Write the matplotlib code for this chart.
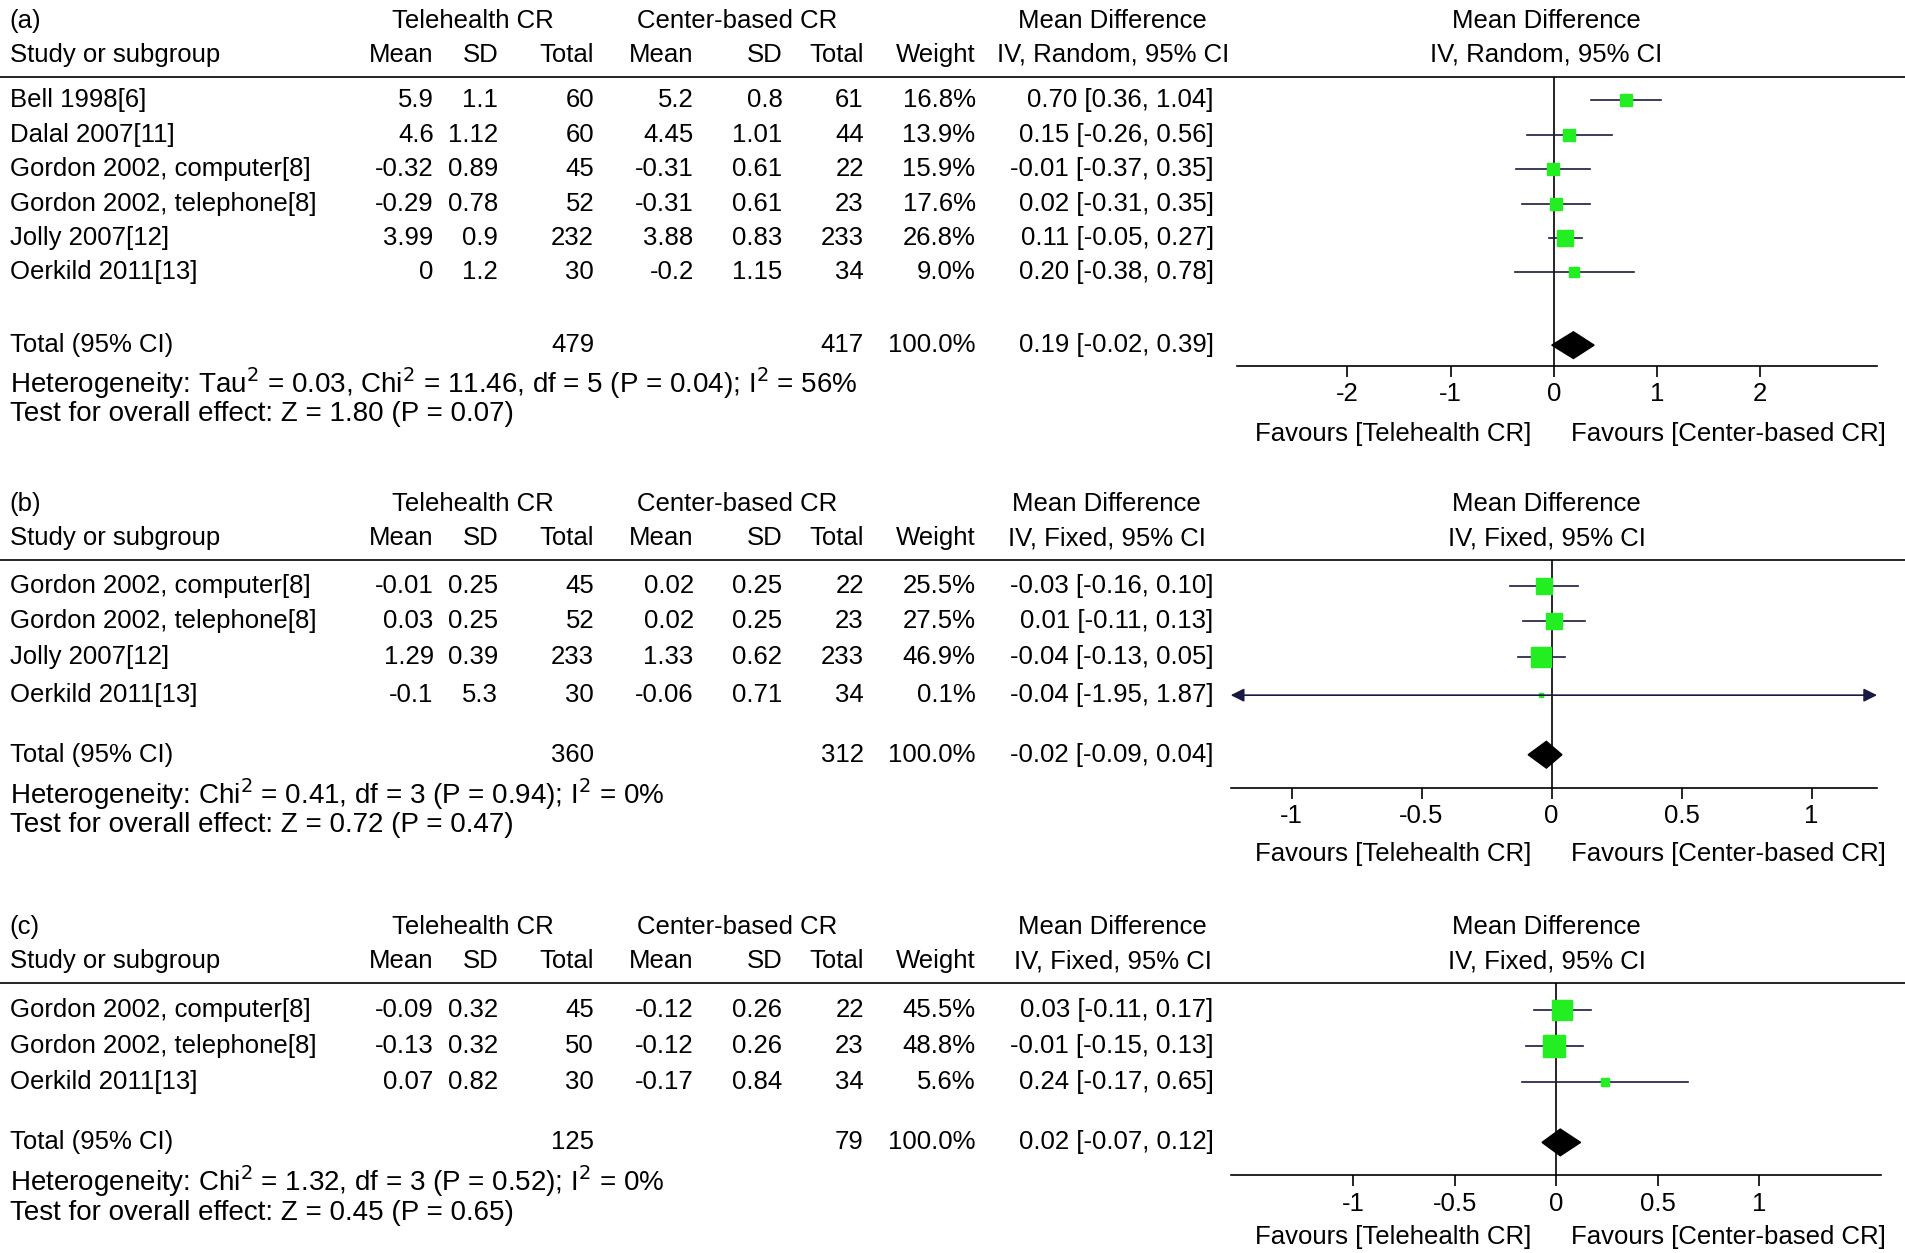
import numpy as np
import matplotlib.pyplot as plt
from matplotlib.patches import Polygon

plt.rcParams['font.family'] = ['Liberation Sans', 'DejaVu Sans']

# ---- data ----
a_studies = ['Bell 1998[6]', 'Dalal 2007[11]', 'Gordon 2002, computer[8]',
             'Gordon 2002, telephone[8]', 'Jolly 2007[12]', 'Oerkild 2011[13]']
a_t_mean = ['5.9', '4.6', '-0.32', '-0.29', '3.99', '0']
a_t_sd = ['1.1', '1.12', '0.89', '0.78', '0.9', '1.2']
a_t_n = ['60', '60', '45', '52', '232', '30']
a_c_mean = ['5.2', '4.45', '-0.31', '-0.31', '3.88', '-0.2']
a_c_sd = ['0.8', '1.01', '0.61', '0.61', '0.83', '1.15']
a_c_n = ['61', '44', '22', '23', '233', '34']
a_weight = [16.8, 13.9, 15.9, 17.6, 26.8, 9.0]
a_md = [0.70, 0.15, -0.01, 0.02, 0.11, 0.20]
a_lo = [0.36, -0.26, -0.37, -0.31, -0.05, -0.38]
a_hi = [1.04, 0.56, 0.35, 0.35, 0.27, 0.78]
a_total = ('479', '417', 0.19, -0.02, 0.39)
a_het = 'Heterogeneity: Tau$^2$ = 0.03, Chi$^2$ = 11.46, df = 5 (P = 0.04); I$^2$ = 56%'
a_test = 'Test for overall effect: Z = 1.80 (P = 0.07)'
a_ticks = [-2, -1, 0, 1, 2]

b_studies = ['Gordon 2002, computer[8]', 'Gordon 2002, telephone[8]',
             'Jolly 2007[12]', 'Oerkild 2011[13]']
b_t_mean = ['-0.01', '0.03', '1.29', '-0.1']
b_t_sd = ['0.25', '0.25', '0.39', '5.3']
b_t_n = ['45', '52', '233', '30']
b_c_mean = ['0.02', '0.02', '1.33', '-0.06']
b_c_sd = ['0.25', '0.25', '0.62', '0.71']
b_c_n = ['22', '23', '233', '34']
b_weight = [25.5, 27.5, 46.9, 0.1]
b_md = [-0.03, 0.01, -0.04, -0.04]
b_lo = [-0.16, -0.11, -0.13, -1.95]
b_hi = [0.10, 0.13, 0.05, 1.87]
b_total = ('360', '312', -0.02, -0.09, 0.04)
b_het = 'Heterogeneity: Chi$^2$ = 0.41, df = 3 (P = 0.94); I$^2$ = 0%'
b_test = 'Test for overall effect: Z = 0.72 (P = 0.47)'
b_ticks = [-1, -0.5, 0, 0.5, 1]

c_studies = ['Gordon 2002, computer[8]', 'Gordon 2002, telephone[8]', 'Oerkild 2011[13]']
c_t_mean = ['-0.09', '-0.13', '0.07']
c_t_sd = ['0.32', '0.32', '0.82']
c_t_n = ['45', '50', '30']
c_c_mean = ['-0.12', '-0.12', '-0.17']
c_c_sd = ['0.26', '0.26', '0.84']
c_c_n = ['22', '23', '34']
c_weight = [45.5, 48.8, 5.6]
c_md = [0.03, -0.01, 0.24]
c_lo = [-0.11, -0.15, -0.17]
c_hi = [0.17, 0.13, 0.65]
c_total = ('125', '79', 0.02, -0.07, 0.12)
c_het = 'Heterogeneity: Chi$^2$ = 1.32, df = 3 (P = 0.52); I$^2$ = 0%'
c_test = 'Test for overall effect: Z = 0.45 (P = 0.65)'
c_ticks = [-1, -0.5, 0, 0.5, 1]

W, H = 1568.0, 1031.0
fig = plt.figure(figsize=(19.05, 12.53), dpi=100)
FS = 18.5


def T(x, y, s, ha='left', **kw):
    kw.setdefault('fontsize', FS)
    fig.text(x / W, 1 - y / H, s, ha=ha, va='center', **kw)


def fmt(v):
    return f'{v:.2f}'


def panel(label, top, rows, studies, tm, tsd, tn, cm, csd, cn, wts, md, lo, hi,
          total, het, test, ticks, method, axy, ax_x0, ax_x1, xlim, fav_y, hdr_cx, het_y):
    T(8, top, label)
    T(389, top, 'Telehealth CR', ha='center')
    T(607, top, 'Center-based CR', ha='center')
    T(hdr_cx, top, 'Mean Difference', ha='center')
    T(1273, top, 'Mean Difference', ha='center')
    y2 = top + 28
    T(8, y2, 'Study or subgroup')
    T(357, y2, 'Mean', ha='right'); T(410, y2, 'SD', ha='right'); T(489, y2, 'Total', ha='right')
    T(571, y2, 'Mean', ha='right'); T(644, y2, 'SD', ha='right'); T(711, y2, 'Total', ha='right')
    T(803, y2, 'Weight', ha='right')
    T(hdr_cx, y2, f'IV, {method}, 95% CI', ha='center')
    T(1273, y2, f'IV, {method}, 95% CI', ha='center')
    line_y = top + 46
    fig.add_artist(plt.Line2D([0, 1], [1 - line_y / H] * 2, color='black', lw=1.2))
    for i, y in enumerate(rows[:-1]):
        T(8, y, studies[i])
        T(357, y, tm[i], ha='right'); T(410, y, tsd[i], ha='right'); T(489, y, tn[i], ha='right')
        T(571, y, cm[i], ha='right'); T(644, y, csd[i], ha='right'); T(711, y, cn[i], ha='right')
        T(803, y, f'{wts[i]:.1f}%', ha='right')
        T(999, y, f'{fmt(md[i])} [{fmt(lo[i])}, {fmt(hi[i])}]', ha='right')
    ty = rows[-1]
    T(8, ty, 'Total (95% CI)')
    T(489, ty, total[0], ha='right'); T(711, ty, total[1], ha='right')
    T(803, ty, '100.0%', ha='right')
    T(999, ty, f'{fmt(total[2])} [{fmt(total[3])}, {fmt(total[4])}]', ha='right')
    T(8, het_y, het, fontsize=FS + 1.5)
    T(8, het_y + 26, test, fontsize=FS + 1.5)

    # forest axes: x in effect units, y in figure pixel rows
    ax = fig.add_axes([ax_x0 / W, 1 - axy / H, (ax_x1 - ax_x0) / W, (axy - line_y) / H])
    ax.set_xlim(xlim)
    ax.set_ylim(axy, line_y)
    for s in ['top', 'right', 'left']:
        ax.spines[s].set_visible(False)
    ax.spines['bottom'].set_linewidth(1.2)
    ax.set_yticks([])
    ax.set_xticks(ticks)
    ax.set_xticklabels([f'{t:g}' for t in ticks], fontsize=FS)
    ax.tick_params(axis='x', direction='out', length=8, width=1.2, pad=4)
    ax.axvline(0, color='black', lw=1.2)
    for i, y in enumerate(rows[:-1]):
        if lo[i] < xlim[0] or hi[i] > xlim[1]:
            ax.annotate('', xy=(xlim[0], y), xytext=(xlim[1], y),
                        arrowprops=dict(arrowstyle='<|-|>', color='#1a1a40', lw=1.2,
                                        mutation_scale=20, shrinkA=0, shrinkB=0))
        else:
            ax.plot([lo[i], hi[i]], [y, y], color='#1a1a40', lw=1.2)
        ax.plot(md[i], y, 's', color='#22ee22', mec='#22ee22',
                ms=max(2.2 * np.sqrt(wts[i]), 2.5))
    dh = 11
    ax.add_patch(Polygon([[total[3], ty], [total[2], ty - dh], [total[4], ty], [total[2], ty + dh]],
                         closed=True, color='black'))
    T(1147, fav_y, 'Favours [Telehealth CR]', ha='center')
    T(1423, fav_y, 'Favours [Center-based CR]', ha='center')


panel('(a)', 17, [82, 111, 139, 168, 196, 224, 284], a_studies, a_t_mean, a_t_sd, a_t_n,
      a_c_mean, a_c_sd, a_c_n, a_weight, a_md, a_lo, a_hi, a_total, a_het, a_test,
      a_ticks, 'Random', 301, 1018, 1545, (-3.07, 3.13), 357, 916, 315)
panel('(b)', 415, [482, 511, 541, 572, 621], b_studies, b_t_mean, b_t_sd, b_t_n,
      b_c_mean, b_c_sd, b_c_n, b_weight, b_md, b_lo, b_hi, b_total, b_het, b_test,
      b_ticks, 'Fixed', 648, 1013, 1545, (-1.234, 1.252), 703, 911, 653)
panel('(c)', 763, [831, 861, 890, 940], c_studies, c_t_mean, c_t_sd, c_t_n,
      c_c_mean, c_c_sd, c_c_n, c_weight, c_md, c_lo, c_hi, c_total, c_het, c_test,
      c_ticks, 'Fixed', 967, 1013, 1548, (-1.605, 1.6), 1018, 916, 972)

fig.savefig('out.png', dpi=100)
